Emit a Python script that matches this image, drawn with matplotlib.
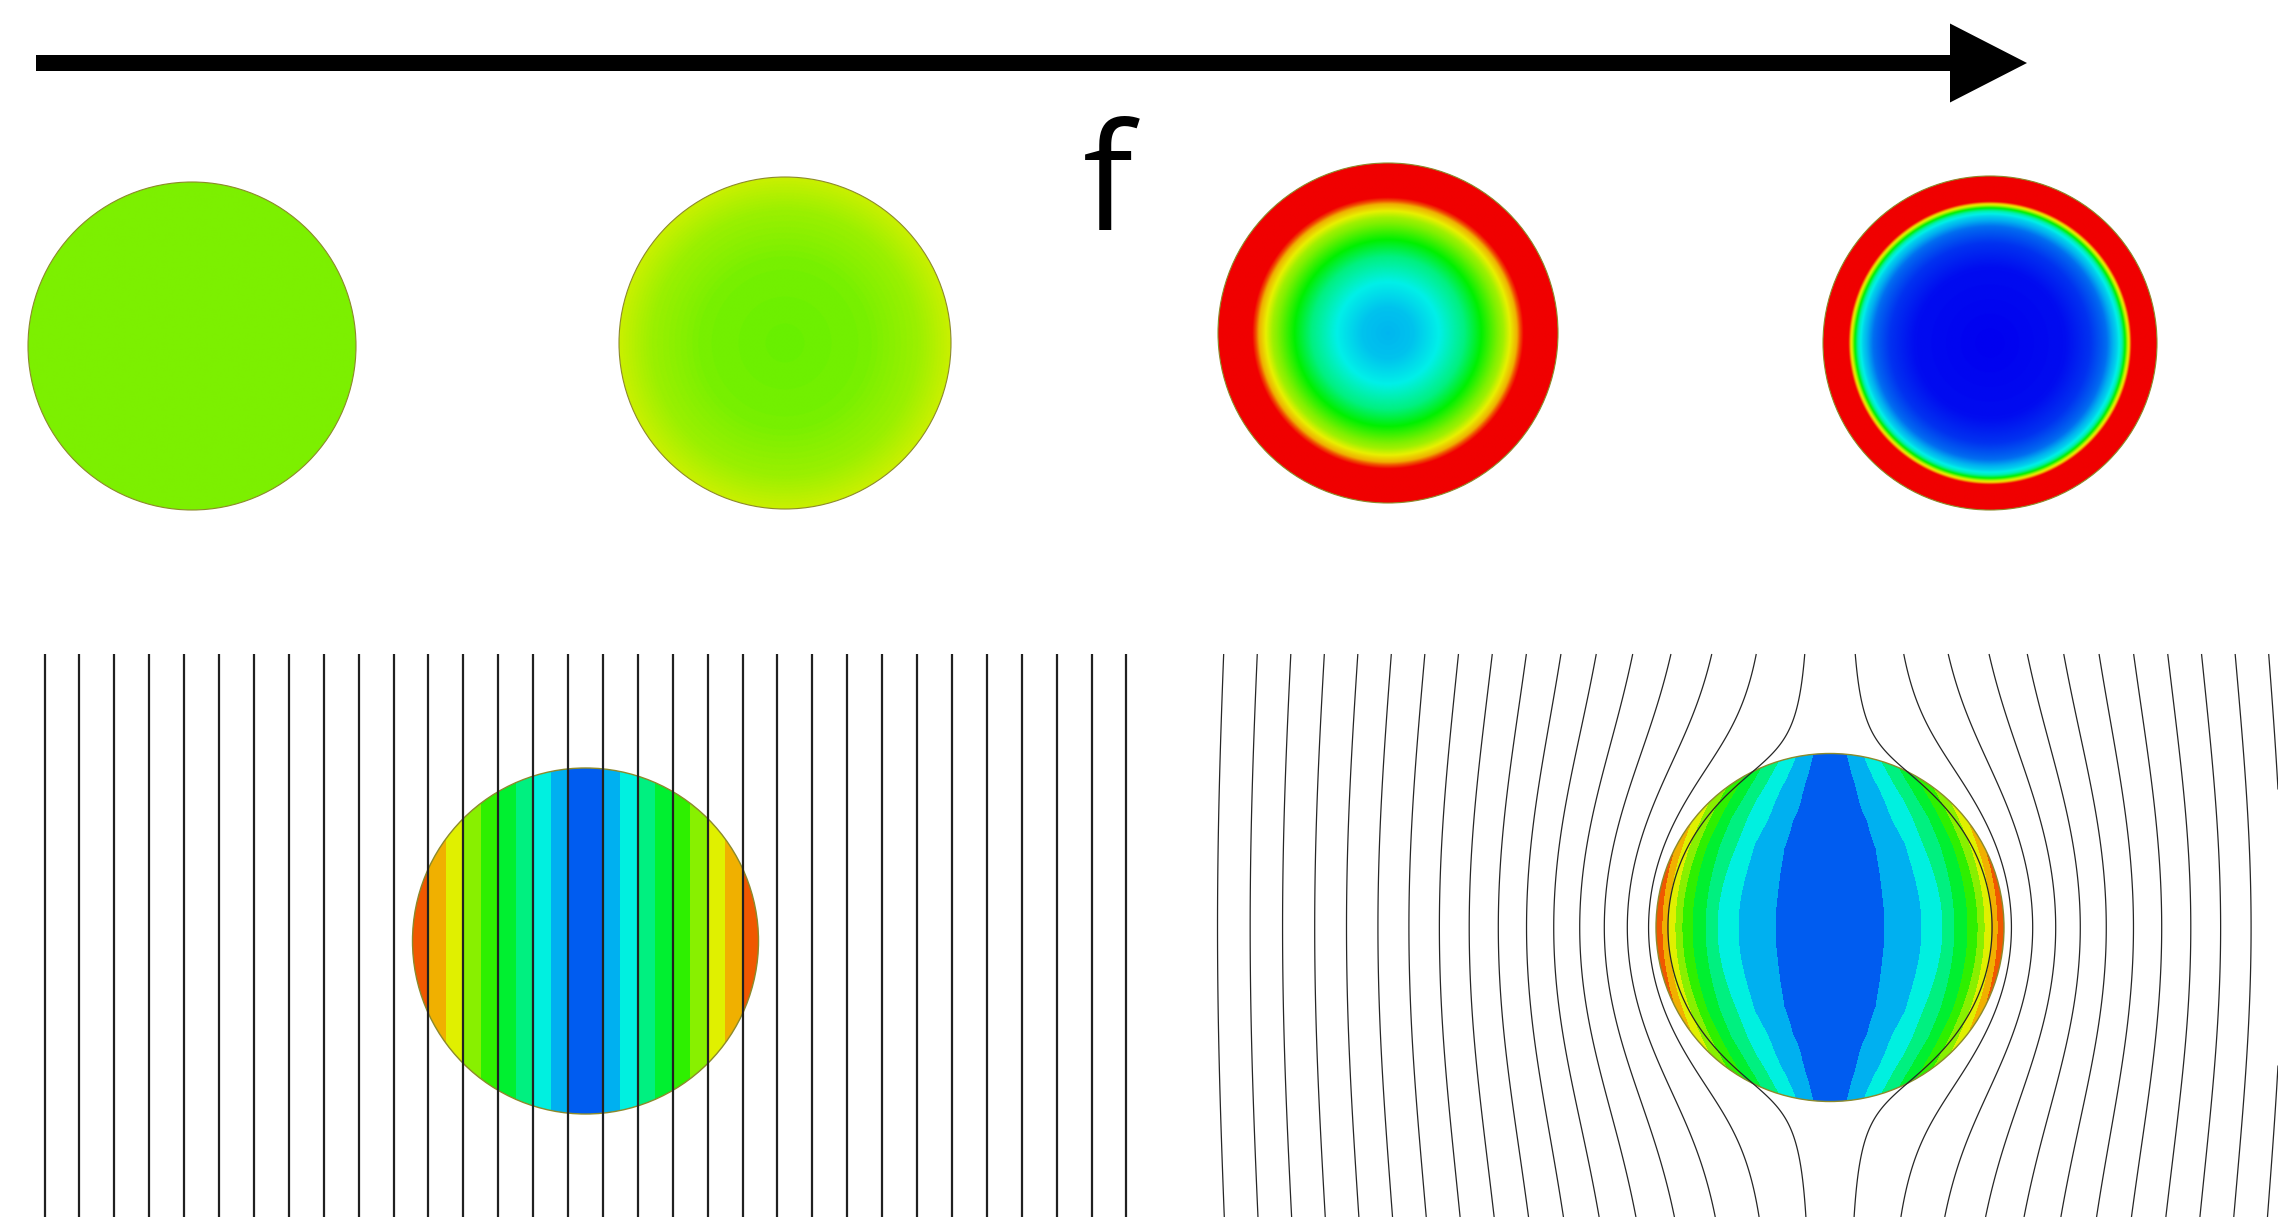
import numpy as np
import matplotlib.pyplot as plt
from matplotlib.colors import LinearSegmentedColormap
from matplotlib.patches import Circle, FancyArrow

# colour scale of the field plots (value 0..1)
scale_pos = [0.0, 0.15, 0.25, 0.35, 0.45, 0.55, 0.65, 0.75, 0.85, 0.92, 1.0]
scale_col = ['#0000f0', '#0060f0', '#00b0f0', '#00f0e8', '#00f080', '#00f000',
             '#80f000', '#e8f000', '#f0b000', '#f05000', '#f00000']

# top row: radial profiles (r / R -> colour value), frequency increasing
disc1_r = [0.0, 1.0]
disc1_v = [0.648, 0.648]
disc2_r = [0.0, 0.5, 0.8, 1.0]
disc2_v = [0.63, 0.642, 0.675, 0.72]
disc3_r = [0.0, 0.15, 0.3, 0.45, 0.55, 0.62, 0.68, 0.72, 0.76, 0.80, 1.0]
disc3_v = [0.26, 0.28, 0.35, 0.45, 0.55, 0.62, 0.68, 0.75, 0.85, 1.0, 1.0]
disc4_r = [0.0, 0.45, 0.6, 0.7, 0.76, 0.79, 0.81, 0.83, 0.85, 1.0]
disc4_v = [0.0, 0.02, 0.08, 0.17, 0.3, 0.4, 0.55, 0.75, 1.0, 1.0]

# bottom row: banded contour levels and colours
band_levels = [0.0, 0.1, 0.2, 0.3, 0.4, 0.5, 0.6, 0.7, 0.8, 0.9, 1.01]
band_colors = ['#005cf0', '#00b0f0', '#00f0e0', '#00f080', '#00f030',
               '#2ef000', '#88f000', '#e0f000', '#f0b000', '#f05800']

# right disc: radial weight of |J| = f(r) * |cos(theta)|
lens_r = [0.0, 0.16, 0.316, 0.43, 0.529, 0.649, 0.718, 0.793, 0.851, 0.891,
          0.931, 0.966, 1.0]
lens_f = [0.0, 0.045, 0.1, 0.15, 0.2, 0.3, 0.4, 0.5, 0.6, 0.7, 0.8, 0.9, 1.0]

# field line levels (in units of disc radius), mirrored on both sides
line_levels = [0.1, 0.3, 0.5, 0.7, 0.9, 1.1, 1.3, 1.5, 1.7, 1.9, 2.1, 2.3,
               2.5, 2.7, 2.9, 3.1, 3.3]
expel_radius = 0.88

cmap = LinearSegmentedColormap.from_list('fem', list(zip(scale_pos, scale_col)))

W, H = 2278, 1217
fig = plt.figure(figsize=(W / 100, H / 100), dpi=100)
ax = fig.add_axes([0, 0, 1, 1])

edge_col = '#8c8a2a'

# arrow + label
ax.add_patch(FancyArrow(36, 63, 1991, 0, width=16, head_width=79, head_length=77,
                        length_includes_head=True, color='black', lw=0))
ax.text(1108, 230, 'f', fontsize=107, family='Open Sans', ha='center',
        va='baseline', weight='medium')

# top row discs
g = np.linspace(-1, 1, 700)
gu, gv = np.meshgrid(g, g)
gr = np.hypot(gu, gv)
top_discs = [((192, 346, 164), disc1_r, disc1_v),
             ((785, 343, 166), disc2_r, disc2_v),
             ((1388, 333, 170), disc3_r, disc3_v),
             ((1990, 343, 167), disc4_r, disc4_v)]
for (cx, cy, R), pr, pv in top_discs:
    val = np.interp(gr, pr, pv)
    im = ax.imshow(val, extent=[cx - R, cx + R, cy + R, cy - R], cmap=cmap,
                   vmin=0, vmax=1, interpolation='bilinear', zorder=2)
    im.set_clip_path(Circle((cx, cy), R, transform=ax.transData))
    ax.add_patch(Circle((cx, cy), R, fill=False, ec=edge_col, lw=0.8, zorder=3))

# bottom left: uniform field, stripes
cxL, cyL, RL = 585.5, 941, 173
unitL = 174.5
cs = ax.contourf(cxL + RL * gu, cyL - RL * gv, np.abs(gu) * RL / unitL,
                 levels=band_levels, colors=band_colors, zorder=2)
cs.set_clip_path(Circle((cxL, cyL), RL, transform=ax.transData))
ax.add_patch(Circle((cxL, cyL), RL, fill=False, ec=edge_col, lw=1, zorder=3))
for c in line_levels[:16]:
    for s in (-1, 1):
        ax.vlines(cxL + s * c * unitL, 654, H, color='#202020', lw=1.6, zorder=4)

# bottom right: expelled field, lens pattern
cxR, cyR, RR = 1830, 927.5, 174
rr = np.where(gr == 0, 1, gr)
J = np.interp(gr, lens_r, lens_f) * np.abs(gu) / rr
cs2 = ax.contourf(cxR + RR * gu, cyR - RR * gv, J, levels=band_levels,
                  colors=band_colors, zorder=2)
cs2.set_clip_path(Circle((cxR, cyR), RR, transform=ax.transData))
ax.add_patch(Circle((cxR, cyR), RR, fill=False, ec=edge_col, lw=1, zorder=3))

u = np.linspace((1150 - cxR) / RR, (W - cxR) / RR, 900)
v = np.linspace((cyR - H) / RR, (cyR - 654) / RR, 600)
U, V = np.meshgrid(u, v)
R2 = U ** 2 + V ** 2
A = U * (1 - expel_radius ** 2 / R2)
A[R2 < expel_radius ** 2] = 0
lv = sorted([-c for c in line_levels] + line_levels)
ax.contour(cxR + RR * U, cyR - RR * V, A, levels=lv, colors='#262626',
           linewidths=0.9, linestyles='solid', zorder=4)

ax.set_xlim(0, W)
ax.set_ylim(H, 0)
ax.axis('off')

fig.savefig('out.png', dpi=100, facecolor='white')
